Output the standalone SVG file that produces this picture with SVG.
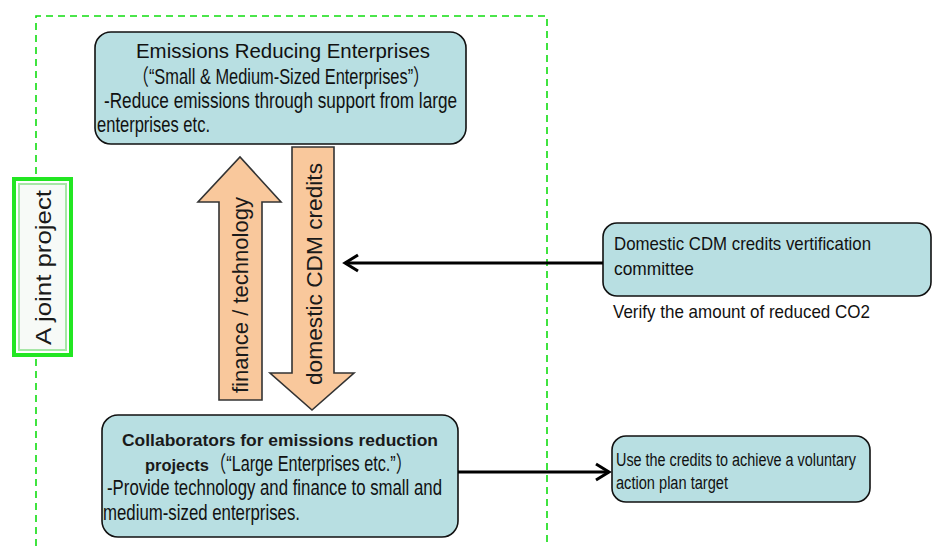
<svg xmlns="http://www.w3.org/2000/svg" width="932" height="546" viewBox="0 0 932 546">
<style>
.box{fill:#B8DFE2;stroke:#111;stroke-width:1.6}
.t{font-family:"Liberation Sans","Noto Sans CJK JP",sans-serif;fill:#111}
.n{font-size:22px}
.s{font-size:19px}
.b{font-family:"Liberation Sans","Noto Sans CJK JP",sans-serif;font-weight:bold;font-size:16.5px;fill:#1a1a1a}
.fat{fill:#F9C89C;stroke:#333;stroke-width:1.6;stroke-linejoin:miter}
.at{font-family:"Liberation Sans","DejaVu Sans",sans-serif;font-size:22px;fill:#1a1a1a}
.con{stroke:#000;stroke-width:3;fill:none}
</style>
<defs>
<marker id="chev" markerUnits="userSpaceOnUse" viewBox="-16 -11 20 22" markerWidth="20" markerHeight="22" refX="0" refY="0" orient="auto">
<path d="M-13,-8 L0,0 L-13,8" fill="none" stroke="#000" stroke-width="3"/>
</marker>
</defs>
<rect width="932" height="546" fill="#fff"/>
<g id="boundary">
<path d="M36,546 V16 H547 V546" fill="none" stroke="#11DD11" stroke-width="1.6" stroke-dasharray="7 5"/>
</g>
<g id="joint-project">
<rect x="14" y="179" width="57" height="176" fill="#fff" stroke="#22E622" stroke-width="4"/>
<rect x="19" y="184" width="47" height="166" fill="#F7FAF7" stroke="#A6E6A6" stroke-width="2"/>
<text class="at" transform="translate(51,345) rotate(-90)" textLength="155" lengthAdjust="spacingAndGlyphs">A joint project</text>
</g>
<g id="sme">
<rect class="box" x="95" y="32" width="371" height="112" rx="16"/>
<text class="t" x="283" y="58" text-anchor="middle" font-size="20" textLength="294" lengthAdjust="spacingAndGlyphs">Emissions Reducing Enterprises</text>
<text class="t n" x="281" y="84" text-anchor="middle" textLength="297" lengthAdjust="spacingAndGlyphs">（“Small &amp; Medium-Sized Enterprises”）</text>
<text class="t n" x="104" y="108" textLength="353" lengthAdjust="spacingAndGlyphs">-Reduce emissions through support from  large</text>
<text class="t n" x="97" y="132" textLength="113" lengthAdjust="spacingAndGlyphs">enterprises etc.</text>
</g>
<g id="finance-technology">
<polygon class="fat" points="219,400 219,202 198,202 240,157 281,202 262,202 262,400"/>
<text class="at" transform="translate(248,393) rotate(-90)" textLength="196" lengthAdjust="spacingAndGlyphs">finance / technology</text>
</g>
<g id="domestic-cdm-credits">
<polygon class="fat" points="292,147 334,147 334,373 354,373 312,410 270,373 292,373"/>
<text class="at" transform="translate(322,385) rotate(-90)" textLength="222" lengthAdjust="spacingAndGlyphs">domestic  CDM credits</text>
</g>
<g id="large">
<rect class="box" x="102" y="415" width="356" height="122" rx="16"/>
<text class="b" x="122" y="446" textLength="316" lengthAdjust="spacingAndGlyphs">Collaborators for emissions reduction</text>
<text class="b" x="145" y="471" textLength="64" lengthAdjust="spacingAndGlyphs">projects</text>
<text class="t n" x="210" y="471" textLength="202" lengthAdjust="spacingAndGlyphs">（“Large Enterprises etc.”）</text>
<text class="t n" x="107" y="495" textLength="335" lengthAdjust="spacingAndGlyphs">-Provide technology and finance to small and</text>
<text class="t n" x="103" y="520" textLength="197" lengthAdjust="spacingAndGlyphs">medium-sized enterprises.</text>
</g>
<g id="committee">
<rect class="box" x="603" y="223" width="328" height="73" rx="14"/>
<text class="t s" x="614" y="250" textLength="257" lengthAdjust="spacingAndGlyphs">Domestic CDM credits vertification</text>
<text class="t s" x="614" y="275" textLength="80" lengthAdjust="spacingAndGlyphs">committee</text>
<text class="t s" x="613" y="318" fill="#000" textLength="257" lengthAdjust="spacingAndGlyphs">Verify the amount of reduced CO2</text>
</g>
<g id="voluntary-target">
<rect class="box" x="612" y="436" width="258" height="66" rx="14"/>
<text class="t" x="616" y="466" font-size="18" textLength="240" lengthAdjust="spacingAndGlyphs">Use the credits to achieve a voluntary</text>
<text class="t" x="616" y="489" font-size="18" textLength="112" lengthAdjust="spacingAndGlyphs">action plan target</text>
</g>
<g id="connectors">
<path class="con" d="M603,263 H345" marker-end="url(#chev)"/>
<path class="con" d="M458,472 H609" marker-end="url(#chev)"/>
</g>
</svg>
